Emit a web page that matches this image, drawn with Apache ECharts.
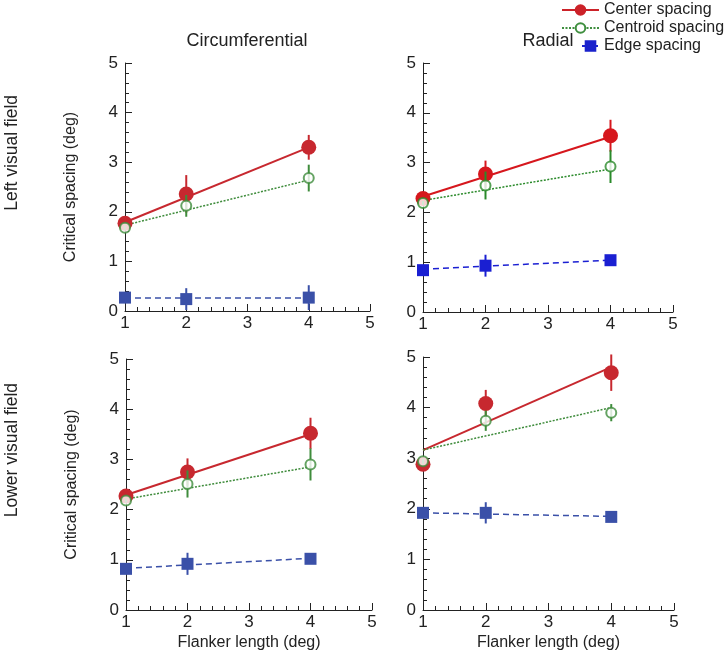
<!DOCTYPE html>
<html>
<head>
<meta charset="utf-8">
<script src="https://cdn.jsdelivr.net/npm/echarts@6/dist/echarts.min.js"></script>
<style>
  html, body { margin: 0; padding: 0; background: #fff; }
  #main { width: 728px; height: 659px; }
</style>
</head>
<body>
<div id="main"></div>
<script>
var flankerLength = [1, 2, 4]; // x of the data points
var fitX = [1, 4];             // x range of the fitted lines
var seriesNames = ['Center spacing', 'Centroid spacing', 'Edge spacing'];
var xTicks = [1, 2, 3, 4, 5];
var yTicks = [0, 1, 2, 3, 4, 5];

// rows: center, centroid, edge
var leftCircMean = [[1.77, 2.36, 3.30], [1.68, 2.12, 2.68], [0.27, 0.24, 0.27]];
var leftCircErr  = [[0.05, 0.38, 0.25], [0.04, 0.22, 0.27], [0.05, 0.22, 0.25]];
var leftCircFit  = [[1.79, 3.30], [1.73, 2.64], [0.26, 0.26]];

var leftRadMean = [[2.28, 2.77, 3.54], [2.19, 2.54, 2.92], [0.84, 0.93, 1.04]];
var leftRadErr  = [[0.05, 0.27, 0.32], [0.04, 0.28, 0.33], [0.05, 0.22, 0.09]];
var leftRadFit  = [[2.32, 3.52], [2.24, 2.87], [0.86, 1.04]];

var lowerCircMean = [[2.27, 2.75, 3.52], [2.18, 2.51, 2.90], [0.82, 0.92, 1.02]];
var lowerCircErr  = [[0.05, 0.27, 0.31], [0.04, 0.27, 0.32], [0.05, 0.22, 0.09]];
var lowerCircFit  = [[2.29, 3.50], [2.21, 2.85], [0.83, 1.03]];

var lowerRadMean = [[2.88, 4.08, 4.69], [2.94, 3.74, 3.90], [1.92, 1.92, 1.84]];
var lowerRadErr  = [[0.05, 0.27, 0.36], [0.05, 0.20, 0.17], [0.05, 0.21, 0.04]];
var lowerRadFit  = [[3.16, 4.80], [3.16, 4.00], [1.92, 1.85]];

var panels = [
  { mean: leftCircMean, err: leftCircErr, fit: leftCircFit, colors: ['#c7282f', '#3f8c3c', '#3a50a8'] },
  { mean: leftRadMean, err: leftRadErr, fit: leftRadFit, colors: ['#d6171d', '#2a8a2a', '#1a1fd2'] },
  { mean: lowerCircMean, err: lowerCircErr, fit: lowerCircFit, colors: ['#c7282f', '#3f8c3c', '#3a50a8'] },
  { mean: lowerRadMean, err: lowerRadErr, fit: lowerRadFit, colors: ['#c7282f', '#3f8c3c', '#3a50a8'] }
];

var font = 'Liberation Sans, Arial, Helvetica, sans-serif';
var symbols = ['circle', 'emptyCircle', 'rect'];
var symbolSizes = [15, 10, 12];
var lineTypes = ['solid', [2, 1.5], [6, 4]];
var lineWidths = [2, 1.5, 1.5];

var grids = [
  { left: 125, top: 63, width: 245, height: 248 },
  { left: 423, top: 63, width: 250, height: 249 },
  { left: 126, top: 359, width: 246, height: 251 },
  { left: 423, top: 357, width: 251, height: 253 }
];

var xAxes = [], yAxes = [], series = [];

for (var p = 0; p < 4; p++) {
  var bottomRow = p >= 2;
  var leftCol = p % 2 === 0;
  xAxes.push({
    type: 'value', gridIndex: p, min: xTicks[0], max: xTicks[xTicks.length - 1], interval: 1,
    name: bottomRow ? 'Flanker length (deg)' : '',
    nameLocation: 'middle', nameGap: 25,
    nameTextStyle: { fontFamily: font, fontSize: 16, color: '#222' },
    axisLine: { onZero: false, lineStyle: { color: '#222', width: 1 } },
    axisTick: { inside: true, length: 7, lineStyle: { color: '#222' } },
    minorTick: { show: true, splitNumber: 5, length: 4, lineStyle: { color: '#222' } },
    axisLabel: { fontFamily: font, fontSize: 17, color: '#222', margin: 4 },
    splitLine: { show: false }
  });
  yAxes.push({
    type: 'value', gridIndex: p, min: yTicks[0], max: yTicks[yTicks.length - 1], interval: 1,
    name: leftCol ? 'Critical spacing (deg)' : '',
    nameLocation: 'middle', nameGap: 46,
    nameTextStyle: { fontFamily: font, fontSize: 16, color: '#222' },
    axisLine: { onZero: false, lineStyle: { color: '#222', width: 1 } },
    axisTick: { inside: true, length: 7, lineStyle: { color: '#222' } },
    minorTick: { show: true, splitNumber: 5, length: 4, lineStyle: { color: '#222' } },
    axisLabel: { fontFamily: font, fontSize: 17, color: '#222', margin: 7 },
    splitLine: { show: false }
  });

  var panel = panels[p];
  for (var s = 0; s < 3; s++) {
    var color = panel.colors[s];
    // fitted line
    series.push({
      type: 'line', xAxisIndex: p, yAxisIndex: p, z: 2,
      symbol: 'none', silent: true,
      lineStyle: { color: color, width: lineWidths[s], type: lineTypes[s] },
      data: fitX.map(function (x, i) { return [x, panel.fit[s][i]]; })
    });
    // error bars
    series.push({
      type: 'custom', xAxisIndex: p, yAxisIndex: p, z: 3 + s,
      encode: { x: 0, y: [1, 2] },
      renderItem: (function (c) {
        return function (params, api) {
          var a = api.coord([api.value(0), api.value(1)]);
          var b = api.coord([api.value(0), api.value(2)]);
          return { type: 'line', shape: { x1: a[0], y1: a[1], x2: b[0], y2: b[1] },
                   style: { stroke: c, lineWidth: 2 } };
        };
      })(color),
      data: flankerLength.map(function (x, i) {
        return [x, panel.mean[s][i] - panel.err[s][i], panel.mean[s][i] + panel.err[s][i]];
      })
    });
    // data points
    series.push({
      type: 'scatter', xAxisIndex: p, yAxisIndex: p, z: 3 + s,
      symbol: symbols[s], symbolSize: symbolSizes[s],
      itemStyle: s === 1 ? { color: color, borderColor: color, borderWidth: 2 } : { color: color, opacity: 1 },
      data: flankerLength.map(function (x, i) { return [x, panel.mean[s][i]]; })
    });
  }
}

// legend-only series
var legendColors = ['#cc2229', '#3f8f3f', '#1a22cc'];
for (var k = 0; k < 3; k++) {
  series.push({
    name: seriesNames[k], type: 'line', xAxisIndex: 0, yAxisIndex: 0, data: [],
    symbol: symbols[k], symbolSize: symbolSizes[k],
    itemStyle: { color: legendColors[k], borderColor: legendColors[k], borderWidth: 2 },
    lineStyle: { color: legendColors[k], width: lineWidths[k], type: lineTypes[k] }
  });
}

var legendText = { fontFamily: font, fontSize: 16, color: '#222', lineHeight: 18 };

var chart = echarts.init(document.getElementById('main'));
chart.setOption({
  backgroundColor: '#fff',
  animation: false,
  title: [
    { text: 'Circumferential', left: 242, top: 27, textAlign: 'center',
      textStyle: { fontFamily: font, fontSize: 18, fontWeight: 'normal', color: '#222' } },
    { text: 'Radial', left: 543, top: 27, textAlign: 'center',
      textStyle: { fontFamily: font, fontSize: 18, fontWeight: 'normal', color: '#222' } }
  ],
  legend: [
    { data: seriesNames.slice(0, 2), orient: 'vertical', left: 561, top: 1,
      itemWidth: 37, itemHeight: 12, itemGap: 0, padding: 0,
      textStyle: legendText },
    { data: seriesNames.slice(2), orient: 'vertical', left: 581, top: 37,
      itemWidth: 17, itemHeight: 12, itemGap: 0, padding: 0,
      textStyle: legendText }
  ],
  graphic: [
    { type: 'text', left: 3, top: 95, rotation: Math.PI / 2,
      style: { text: 'Left visual field', fontFamily: font, fontSize: 17.5, fill: '#222' } },
    { type: 'text', left: 3, top: 383, rotation: Math.PI / 2,
      style: { text: 'Lower visual field', fontFamily: font, fontSize: 17.5, fill: '#222' } }
  ],
  grid: grids,
  xAxis: xAxes,
  yAxis: yAxes,
  series: series
});
</script>
</body>
</html>
